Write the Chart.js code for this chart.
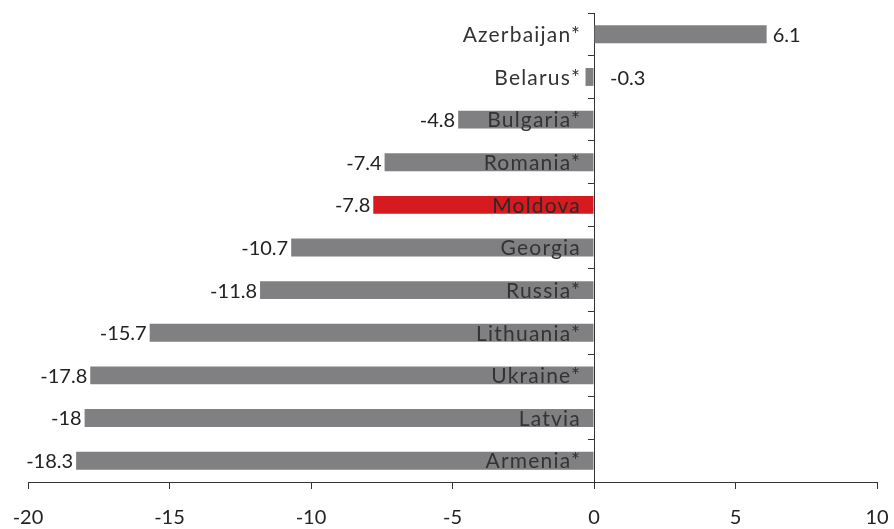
<!DOCTYPE html>
<html>
<head>
<meta charset="utf-8">
<script src="https://cdn.jsdelivr.net/npm/chart.js@4.4.1/dist/chart.umd.min.js"></script>
<style>
  html, body { margin: 0; padding: 0; background: #fff; }
  #wrap { width: 894px; height: 529px; }
</style>
</head>
<body>
<div id="wrap"><canvas id="chart" width="894" height="529"></canvas></div>
<script>
// chart data
const categories = ['Azerbaijan*', 'Belarus*', 'Bulgaria*', 'Romania*', 'Moldova', 'Georgia', 'Russia*', 'Lithuania*', 'Ukraine*', 'Latvia', 'Armenia*'];
const values = [6.1, -0.3, -4.8, -7.4, -7.8, -10.7, -11.8, -15.7, -17.8, -18, -18.3];
const highlighted = 'Moldova';
const xTicks = [-20, -15, -10, -5, 0, 5, 10];

const FONT = 'Lato, "Open Sans", sans-serif';
const GREY = '#808083';
const RED = '#d71920';

// labels drawn on and next to the bars
const barLabels = {
    id: 'barLabels',
    afterDatasetsDraw(chart) {
        const ctx = chart.ctx;
        const meta = chart.getDatasetMeta(0);
        const zero = chart.scales.x.getPixelForValue(0);
        ctx.save();
        ctx.textBaseline = 'middle';
        meta.data.forEach((bar, i) => {
            const v = values[i];
            // category name, right aligned just left of the zero line
            ctx.font = '21px ' + FONT;
            ctx.letterSpacing = '1.2px';
            ctx.fillStyle = categories[i] === highlighted ? '#2a2a2a' : '#333';
            ctx.textAlign = 'right';
            ctx.fillText(categories[i], zero - 13, bar.y + 1);
            // value
            ctx.font = '20px ' + FONT;
            ctx.letterSpacing = '0px';
            ctx.fillStyle = '#222';
            if (v >= 0) {
                ctx.textAlign = 'left';
                ctx.fillText(String(v), bar.x + 6, bar.y + 1);
            } else if (v > -1) {
                // too short to hold the label on the left, Excel put it right
                ctx.textAlign = 'left';
                ctx.fillText(String(v), zero + 16, bar.y + 2);
            } else {
                ctx.textAlign = 'right';
                ctx.fillText(String(v), bar.x - 3, bar.y + 1);
            }
        });
        ctx.restore();
    }
};

new Chart(document.getElementById('chart').getContext('2d'), {
    type: 'bar',
    data: {
        labels: categories,
        datasets: [{
            data: values,
            backgroundColor: categories.map(c => c === highlighted ? RED : GREY),
            borderWidth: 0,
            barPercentage: 0.42,
            categoryPercentage: 1
        }]
    },
    options: {
        indexAxis: 'y',
        responsive: false,
        animation: false,
        layout: { padding: { left: 28, right: 17, top: 13, bottom: 0 } },
        plugins: {
            legend: { display: false },
            tooltip: { enabled: false }
        },
        scales: {
            x: {
                type: 'linear',
                min: -20,
                max: 10,
                afterBuildTicks: (s) => { s.ticks = xTicks.map(v => ({ value: v })); },
                afterFit: (s) => {
                    s.height = 47;
                    // tick label overhang is already inside the layout padding
                    s.paddingLeft = 0;
                    s.paddingRight = 0;
                },
                grid: { drawOnChartArea: false, drawTicks: true, tickLength: 7, color: '#333' },
                border: { display: true, color: '#333', width: 1 },
                ticks: {
                    color: '#222',
                    padding: 17,
                    font: { family: FONT, size: 20 }
                }
            },
            y: {
                position: { x: 0 },
                afterFit: (s) => { s.width = 0; },
                grid: { drawOnChartArea: false, drawTicks: true, tickLength: 6, color: '#333', offset: true },
                border: { display: true, color: '#333', width: 1 },
                ticks: { display: false }
            }
        }
    },
    plugins: [barLabels]
});
</script>
</body>
</html>
